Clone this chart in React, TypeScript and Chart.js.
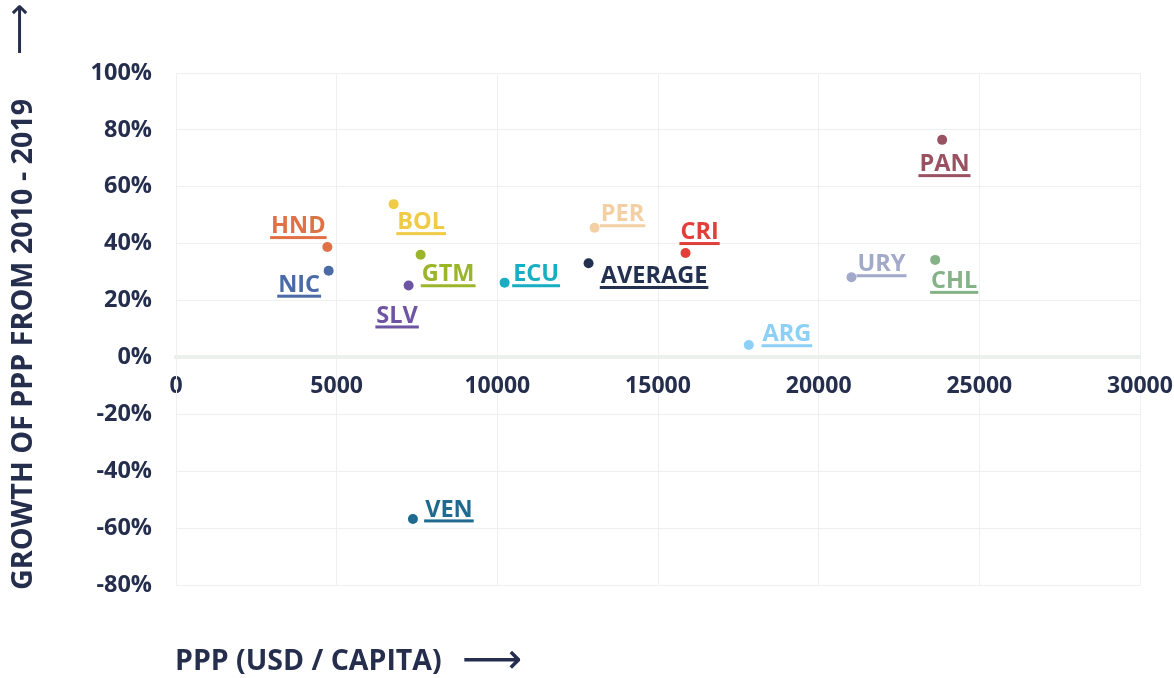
import React, { useEffect, useRef } from 'react';
import { Chart, registerables } from 'chart.js';

Chart.register(...registerables);

// ---- data ----
const countries = ['HND', 'NIC', 'BOL', 'GTM', 'SLV', 'ECU', 'AVERAGE', 'PER', 'CRI', 'ARG', 'URY', 'CHL', 'PAN', 'VEN'];
const pppPerCapita = [4710, 4751, 6773, 7613, 7239, 10226, 12839, 13026, 15857, 17827, 21021, 23626, 23843, 7373];
const growthPct = [38.8, 30.5, 53.9, 36.1, 25.3, 26.3, 33.1, 45.6, 36.7, 4.4, 28.2, 34.3, 76.5, -56.8];
const xTickValues = [0, 5000, 10000, 15000, 20000, 25000, 30000];
const yTickValues = [-80, -60, -40, -20, 0, 20, 40, 60, 80, 100];
const xTitle = 'PPP (USD / CAPITA)';
const yTitle = 'GROWTH OF PPP FROM 2010 - 2019';

// ---- styles ----
const pointColors = ['#E07045', '#4A6BA6', '#EFCB48', '#9BB52A', '#6E55A3', '#17AEC2', '#233050', '#F3CFA4', '#E03F3A', '#8DD0F7', '#A2AACA', '#85B387', '#9A5262', '#1F6A8E'];
// label centre offset from its point (px)
const labelOffsets: [number, number][] = [
  [-29, -22], [-29.5, 13], [27.5, 17], [27.5, 18.5], [-11.5, 29], [31.5, -9.4], [65.5, 11.7],
  [28, -14.5], [14, -22], [38, -11.7], [30, -14], [19, 20], [2.3, 23.3], [36, -10.6],
];
const TEXT = '#252F4D';
const GRID = '#EEF0EF';
const FONT = '"Open Sans", "DejaVu Sans", sans-serif';

const labelPlugin = {
  id: 'countryLabels',
  afterDatasetsDraw(chart: any) {
    const ctx = chart.ctx as CanvasRenderingContext2D;
    const meta = chart.getDatasetMeta(0);
    ctx.save();
    ctx.font = `700 23.5px ${FONT}`;
    ctx.textAlign = 'center';
    ctx.textBaseline = 'alphabetic';
    meta.data.forEach((pt: any, i: number) => {
      const [dx, dy] = labelOffsets[i];
      const cx = pt.x + dx;
      const cy = pt.y + dy;
      const w = ctx.measureText(countries[i]).width;
      ctx.fillStyle = pointColors[i];
      ctx.fillText(countries[i], cx, cy + 8.2);
      ctx.fillRect(cx - w / 2 - 1, cy + 11, w + 2, 3);
    });
    ctx.restore();
  },
};

const titlePlugin = {
  id: 'axisTitles',
  afterDraw(chart: any) {
    const ctx = chart.ctx as CanvasRenderingContext2D;
    ctx.save();
    ctx.fillStyle = TEXT;
    ctx.textBaseline = 'alphabetic';
    ctx.textAlign = 'left';
    // x title
    ctx.font = `700 28.5px ${FONT}`;
    ctx.fillText(xTitle, 175, 670);
    ctx.font = `42px "DejaVu Sans"`;
    ctx.textBaseline = 'middle';
    ctx.fillText('⟶', 462, 662);
    // y title
    ctx.save();
    ctx.translate(32, 590);
    ctx.rotate(-Math.PI / 2);
    ctx.textBaseline = 'alphabetic';
    ctx.font = `700 28.7px ${FONT}`;
    ctx.fillText(yTitle, 0, 0);
    ctx.restore();
    ctx.save();
    ctx.translate(22, 55);
    ctx.rotate(-Math.PI / 2);
    ctx.textBaseline = 'middle';
    ctx.font = `36px "DejaVu Sans"`;
    ctx.fillText('⟶', 0, 0);
    ctx.restore();
    ctx.restore();
  },
};

export default function App() {
  const canvasRef = useRef<HTMLCanvasElement | null>(null);

  useEffect(() => {
    if (!canvasRef.current) return;
    const chart = new Chart(canvasRef.current, {
      type: 'scatter',
      data: {
        datasets: [
          {
            data: pppPerCapita.map((x, i) => ({ x, y: growthPct[i] })),
            pointBackgroundColor: pointColors,
            pointBorderWidth: 0,
            pointRadius: 5,
            pointHoverRadius: 5,
          },
        ],
      },
      options: {
        responsive: false,
        animation: false,
        events: [],
        layout: { padding: { top: 73, right: 34, bottom: 93, left: 0 } },
        plugins: { legend: { display: false }, tooltip: { enabled: false } },
        scales: {
          x: {
            type: 'linear',
            position: { y: 0 } as any,
            min: 0,
            max: 30000,
            afterBuildTicks: (scale: any) => {
              scale.ticks = xTickValues.map((v) => ({ value: v }));
            },
            afterFit: (scale: any) => {
              scale.paddingLeft = 0;
              scale.paddingRight = 0;
            },
            ticks: {
              color: TEXT,
              font: { family: FONT, size: 23, weight: 'bold' },
              padding: 15,
              maxRotation: 0,
              autoSkip: false,
              callback: (v: any) => String(v),
            },
            grid: { color: GRID, lineWidth: 1, drawTicks: false },
            border: { display: true, color: '#ECF0ED', width: 4 },
          },
          y: {
            type: 'linear',
            min: -80,
            max: 100,
            afterBuildTicks: (scale: any) => {
              scale.ticks = yTickValues.map((v) => ({ value: v }));
            },
            afterFit: (scale: any) => {
              scale.width = 176;
            },
            ticks: {
              color: TEXT,
              font: { family: FONT, size: 23.5, weight: 'bold' },
              padding: 24,
              autoSkip: false,
              callback: (v: any) => `${v}%`,
            },
            grid: { color: GRID, lineWidth: 1, drawTicks: false },
            border: { display: true, color: GRID, width: 1 },
          },
        },
      },
      plugins: [labelPlugin, titlePlugin],
    });
    return () => chart.destroy();
  }, []);

  return (
    <div style={{ position: 'absolute', left: 0, top: 0, width: 1174, height: 678 }}>
      <canvas ref={canvasRef} width={1174} height={678} style={{ display: 'block' }} />
    </div>
  );
}
